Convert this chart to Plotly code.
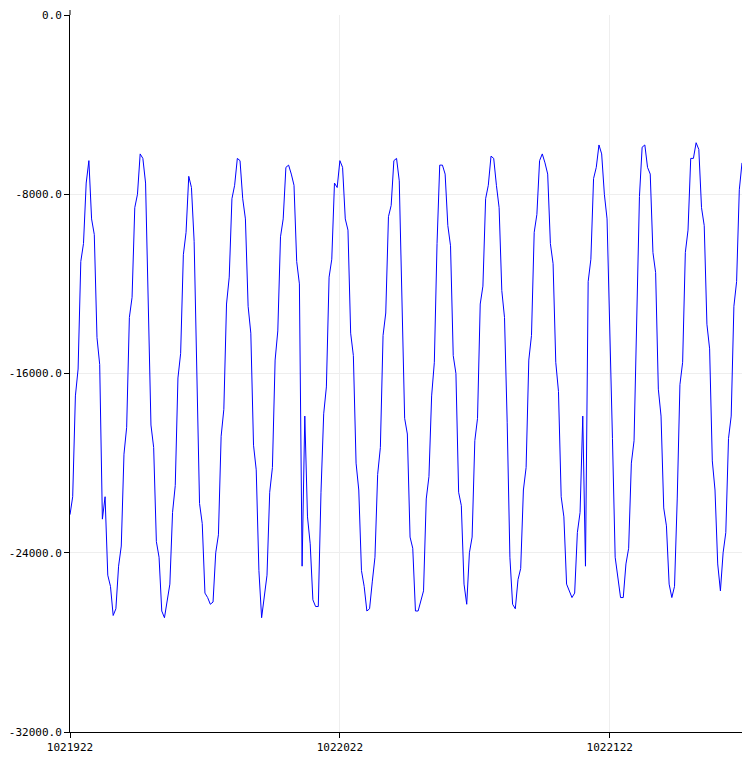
import plotly.graph_objects as go

x_start = 1021922
values = [
    -22300, -21500, -17000, -15800, -11000, -10200, -7500, -6500, -9100, -9800,
    -14400, -15600, -22500, -21500, -25000, -25500, -26800, -26500, -24600, -23700,
    -19600, -18400, -13500, -12600, -8600, -8000, -6200, -6400, -7500, -12900,
    -18300, -19300, -23500, -24200, -26600, -26900, -26100, -25400, -22200, -21000,
    -16200, -15100, -10700, -9700, -7200, -7700, -10100, -16000, -21800, -22700,
    -25800, -26000, -26300, -26200, -24000, -23200, -18800, -17600, -12900, -11700,
    -8200, -7600, -6400, -6500, -8200, -9100, -13000, -14200, -19200, -20300,
    -24800, -26900, -26000, -25000, -21300, -20200, -15400, -14100, -9900, -9100,
    -6800, -6700, -7100, -7600, -11000, -12000, -24600, -17900, -22400, -23600,
    -26100, -26400, -26400, -21300, -17800, -16600, -11700, -10900, -7500, -7700,
    -6500, -6800, -9100, -9600, -14200, -15200, -20000, -21200, -24800, -25500,
    -26600, -26500, -25300, -24200, -20500, -19300, -14300, -13300, -9000, -8500,
    -6500, -6400, -7400, -12700, -18000, -18700, -23300, -23800, -26600, -26600,
    -26200, -25700, -21600, -20600, -17000, -15500, -10200, -6700, -6700, -7100,
    -9400, -10300, -15200, -16000, -21300, -21900, -25400, -26300, -24000, -23300,
    -19000, -18000, -12900, -12100, -8200, -7600, -6300, -6400, -7600, -8600,
    -12300, -13500, -18200, -24200, -26300, -26500, -25200, -24700, -21200, -20200,
    -15400, -14300, -9700, -8900, -6500, -6200, -6600, -7100, -10200, -11100,
    -15500, -16800, -21500, -22400, -25400, -25700, -26000, -25800, -23100, -22200,
    -17900, -24600, -11900, -10900, -7300, -6800, -5800, -6200, -8000, -9100,
    -13700, -18900, -24200, -25100, -26000, -26000, -24500, -23800, -20000, -19000,
    -13600, -8100, -5900, -5800, -6800, -7100, -10600, -11500, -16700, -17900,
    -22000, -22800, -25400, -26000, -25500, -21600, -16500, -15500, -10600, -9600,
    -6400, -6400, -5700, -6000, -8600, -9400, -13800, -14900, -19900, -21200,
    -24500, -25700, -24000, -23100, -18900, -17900, -13000, -11900, -7800, -6600,
]
x_values = [x_start + i for i in range(len(values))]

x_tick_vals = [1021922, 1022022, 1022122]
x_tick_labels = ["1021922", "1022022", "1022122"]
y_tick_vals = [0, -8000, -16000, -24000, -32000]
y_tick_labels = ["0.0", "-8000.0", "-16000.0", "-24000.0", "-32000.0"]

fig = go.Figure()
fig.add_trace(go.Scatter(
    x=x_values, y=values, mode="lines",
    line=dict(color="#0000ff", width=1),
    showlegend=False, hoverinfo="skip",
))

font = dict(family="DejaVu Sans Mono", size=11, color="#000000")
fig.update_layout(
    width=742, height=761,
    margin=dict(l=70, r=0, t=15, b=29, pad=0),
    paper_bgcolor="#ffffff", plot_bgcolor="#ffffff",
    font=font,
    xaxis=dict(
        range=[x_start, x_start + len(values) - 1],
        tickvals=x_tick_vals, ticktext=x_tick_labels,
        showgrid=True, gridcolor="#eeeeee", gridwidth=1,
        showline=True, linecolor="#000000", linewidth=1,
        ticks="outside", ticklen=5, tickcolor="#000000", tickwidth=1,
        zeroline=False, tickfont=font,
    ),
    yaxis=dict(
        range=[-32000, 0],
        tickvals=y_tick_vals, ticktext=y_tick_labels,
        showgrid=True, gridcolor="#eeeeee", gridwidth=1,
        showline=True, linecolor="#000000", linewidth=1,
        ticks="outside", ticklen=5, tickcolor="#000000", tickwidth=1,
        zeroline=False, tickfont=font,
    ),
    shapes=[dict(
        type="line", xref="paper", yref="paper",
        x0=0, x1=0, y0=1, y1=1 + 5 / 717,
        line=dict(color="#000000", width=1),
    )],
)
fig.write_html(
    "out.html",
    config={"displayModeBar": False},
    post_script="document.body.style.margin='0';document.body.style.overflow='hidden';",
)
